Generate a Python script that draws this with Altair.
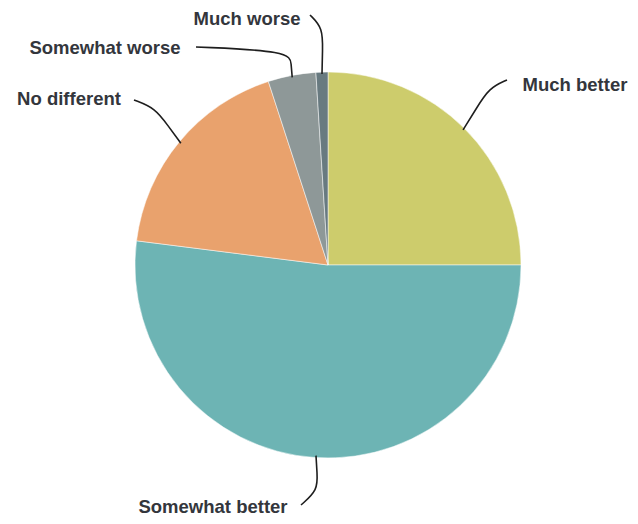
import math
import altair as alt
import pandas as pd

# data
categories = ["Much better", "Somewhat better", "No different", "Somewhat worse", "Much worse"]
values = [25, 52, 18, 4, 1]
colors = ["#cdcc6c", "#6db4b4", "#e9a26d", "#8e9898", "#687a80"]

W, H = 622, 508
OX, OY = 8, 8  # page offset of plot origin


def px(x):
    return x - OX


def py(y):
    return y - OY


CX, CY, R = px(328), py(265), 193

df = pd.DataFrame({"cat": categories, "val": values, "ord": list(range(len(values)))})

# label layout (page pixel positions)
label_pos = {
    "Much better": (575, 85),
    "Somewhat better": (213, 507),
    "No different": (69, 99),
    "Somewhat worse": (105, 48),
    "Much worse": (247, 19),
}
# connector start (near label) and elbow
conn = {
    "Much better": ((507, 80), (489, 88)),
    "Somewhat better": ((301, 505), (318, 490)),
    "No different": ((134, 100), (155, 108)),
    "Somewhat worse": ((196, 47), (290, 51)),
    "Much worse": ((310, 15), (323, 28)),
}

total = sum(values)
cum = 0
rows = []
for c, v in zip(categories, values):
    mid = (cum + v / 2) / total * 2 * math.pi
    cum += v
    ex = CX + (R - 2) * math.sin(mid)
    ey = CY - (R - 2) * math.cos(mid)
    (sx, sy), (mx, my) = conn[c]
    sx, sy, mx, my = px(sx), py(sy), px(mx), py(my)
    rows += [
        {"cat": c, "i": 0, "x": sx, "y": sy},
        {"cat": c, "i": 1, "x": mx, "y": my},
        {"cat": c, "i": 2, "x": (mx + ex) / 2, "y": (my + ey) / 2},
        {"cat": c, "i": 3, "x": ex, "y": ey},
    ]
lines = pd.DataFrame(rows)
labels = pd.DataFrame(
    [{"cat": c, "x": px(label_pos[c][0]), "y": py(label_pos[c][1])} for c in categories]
)

xs = alt.Scale(domain=[0, W], range=[0, W], nice=False, zero=False)
ys = alt.Scale(domain=[0, H], range=[0, H], nice=False, zero=False)

pie = alt.Chart(df).mark_arc(outerRadius=R, stroke="#ffffff", strokeWidth=0.5).encode(
    theta=alt.Theta("val:Q", stack=True),
    order=alt.Order("ord:Q"),
    color=alt.Color("cat:N", scale=alt.Scale(domain=categories, range=colors), legend=None),
    x=alt.value(CX),
    y=alt.value(CY),
)

conns = alt.Chart(lines).mark_line(
    color="#1e1e1e", strokeWidth=1.6, interpolate="basis"
).encode(
    x=alt.X("x:Q", scale=xs, axis=None),
    y=alt.Y("y:Q", scale=ys, axis=None),
    detail="cat:N",
    order="i:Q",
)

text = alt.Chart(labels).mark_text(
    font="Liberation Sans", fontWeight="bold", fontSize=18.5, color="#33363c", baseline="middle"
).encode(
    x=alt.X("x:Q", scale=xs, axis=None),
    y=alt.Y("y:Q", scale=ys, axis=None),
    text="cat:N",
)

chart = alt.layer(pie, conns, text).properties(
    width=W,
    height=H,
    padding=0,
    autosize=alt.AutoSizeParams(type="none"),
    background="#ffffff",
).configure_view(stroke=None)

chart.save("out.html", embed_options={"renderer": "svg", "actions": False})
